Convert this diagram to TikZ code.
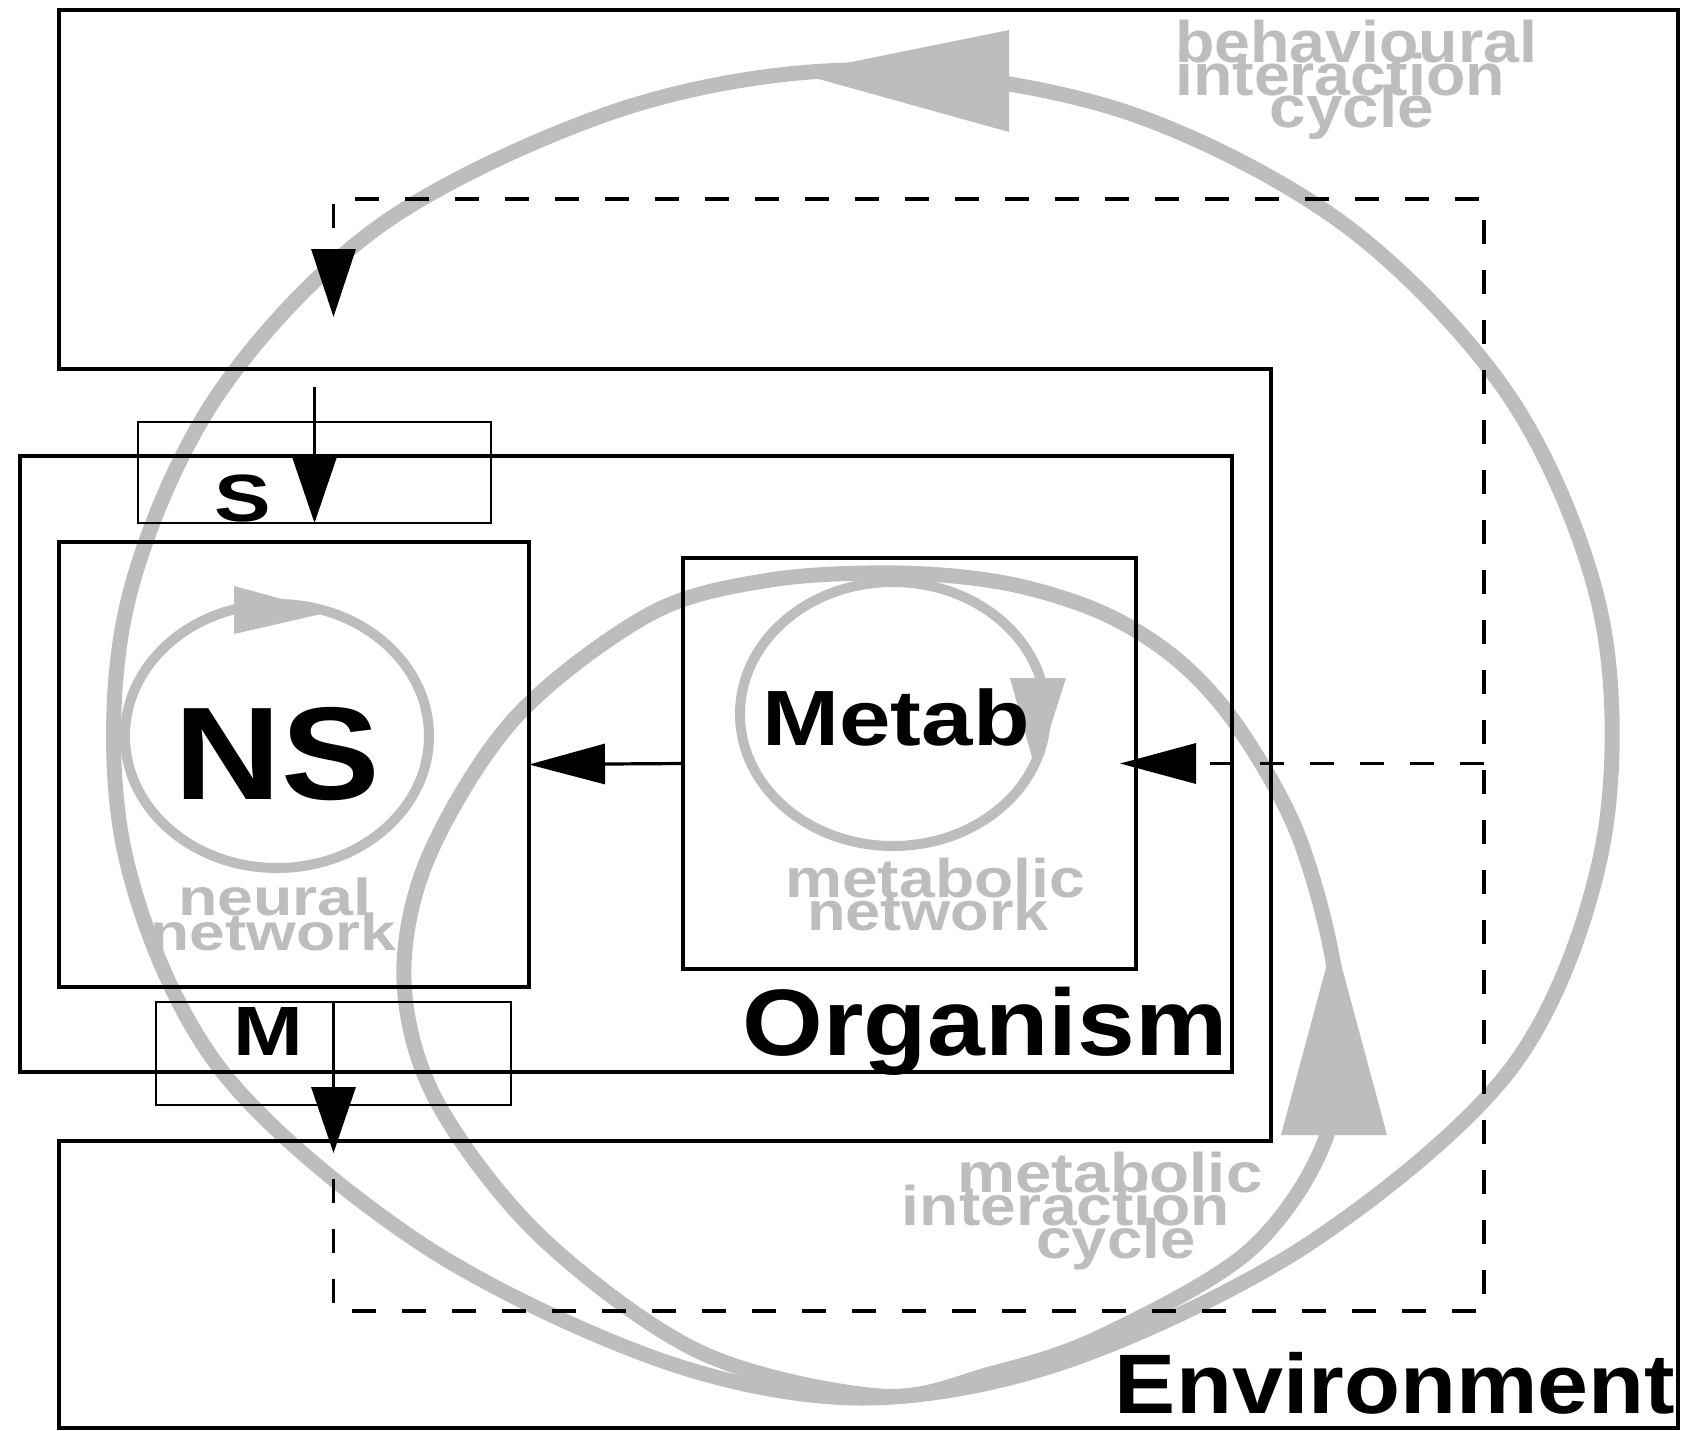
\documentclass[tikz,border=0pt]{standalone}
\usepackage{fontspec}
\setmainfont{Liberation Sans}
\usetikzlibrary{arrows.meta}
\definecolor{cyc}{gray}{0.74}
\newcommand\sxt[3]{\scalebox{#1}[1]{\fontsize{#2}{#2}\selectfont\bfseries #3}}
\begin{document}
\begin{tikzpicture}[x=0.5pt,y=-0.5pt,
  box/.style={draw, line width=1.75pt, inner sep=0pt, outer sep=0pt},
  thinbox/.style={draw, line width=1pt, inner sep=0pt, outer sep=0pt},
  bigcyc/.style={draw=cyc, line width=7.5pt},
  smallcyc/.style={draw=cyc, line width=5pt},
  varr/.style={line width=1.6pt, -{Triangle[length=33pt,width=22pt]}},
  harr/.style={line width=1.6pt, -{Triangle[length=38pt,width=20pt]}},
  dashline/.style={line width=1.7pt, dash pattern=on 12pt off 13pt, dash phase=12pt},
  lbl/.style={anchor=base, inner sep=0pt, outer sep=0pt},
  glbl/.style={anchor=base, inner sep=0pt, outer sep=0pt, text=cyc}]
\useasboundingbox (0,0) rectangle (1681,1430);
\fill[white] (0,0) rectangle (1681,1430);

% ---- grey cycles ----
% behavioural interaction cycle
\draw[bigcyc] plot[smooth cycle, tension=0.55] coordinates {
 (863,70) (1120,110) (1345,225) (1513,402) (1602,619) (1602,849) (1513,1066)
 (1310,1243) (1070,1360) (863,1398) (660,1360) (420,1243) (218,1066) (124,849)
 (124,619) (213,402) (381,225) (625,108)};
% metabolic interaction cycle
\draw[bigcyc] plot[smooth cycle, tension=0.55] coordinates {
 (900,573) (1010,584) (1105,614) (1180,662) (1240,730) (1300,840) (1337,990) (1328,1132)
 (1250,1250) (1100,1337) (990,1374) (880,1396) (700,1352) (540,1236) (436,1100)
 (404,980) (428,858) (515,718) (650,614) (770,580)};
% neural and metabolic networks
\draw[smallcyc] (277,736) ellipse [x radius=76pt, y radius=66pt];
\draw[smallcyc] (893,714) ellipse [x radius=76.5pt, y radius=66pt];
\fill[cyc] (1009,30) -- (1009,132) -- (797,73) -- cycle;
\fill[cyc] (1281,1135) -- (1387,1135) -- (1334,938) -- cycle;
\fill[cyc] (234,586) -- (234,634) -- (330,612) -- cycle;
\fill[cyc] (1010,678) -- (1066,678) -- (1036,772) -- cycle;

% ---- grey labels ----
\node[glbl] (b1) at (1356,62) {\sxt{1.10}{29.3pt}{behavioural}};
\node[glbl] (b2) at (1340,95) {\sxt{1.10}{29.3pt}{interaction}};
\node[glbl] (b3) at (1352,127) {\sxt{1.12}{29.3pt}{cycle}};
\node[glbl] (mn1) at (935,897) {\sxt{1.18}{27.2pt}{metabolic}};
\node[glbl] (mn2) at (928,930) {\sxt{1.16}{27.2pt}{network}};
\node[glbl] (nn1) at (275,915) {\sxt{1.24}{26pt}{neural}};
\node[glbl] (nn2) at (273,950) {\sxt{1.23}{26pt}{network}};
\node[glbl] (mc1) at (1110,1192) {\sxt{1.17}{27.9pt}{metabolic}};
\node[glbl] (mc2) at (1066,1225) {\sxt{1.15}{27.9pt}{interaction}};
\node[glbl] (mc3) at (1116,1258) {\sxt{1.14}{27.9pt}{cycle}};

% ---- environment ----
\draw[line width=1.75pt] (59,10) -- (1678,10) -- (1678,1428) -- (59,1428) -- (59,1141)
  -- (1271,1141) -- (1271,369) -- (59,369) -- cycle;

% ---- boxes ----
\node[box, minimum width=606pt, minimum height=308pt] (org) at (626,764) {};
\node[box, minimum width=235pt, minimum height=222.5pt] (ns) at (294,764.5) {};
\node[box, minimum width=226.5pt, minimum height=205.5pt] (metab) at (909.5,763.5) {};
\node[thinbox, minimum width=176.5pt, minimum height=50.5pt] (sbox) at (314.5,472.5) {};
\node[thinbox, minimum width=177.5pt, minimum height=51.5pt] (mbox) at (333.5,1053.5) {};

% ---- coordinates ----
\coordinate (stop) at (314.5,387);
\coordinate (mtip) at (333.5,1153);
\coordinate (dbl) at (333.5,1311);
\coordinate (dbr) at (1484,1311);
\coordinate (dtr) at (1484,199);
\coordinate (dtl) at (333.5,199);
\coordinate (dtip) at (333.5,317);
\coordinate (dmid) at (1484,763.5);
\coordinate (mtarget) at (1120,763.5);

% ---- black arrows ----
\draw[harr] (metab.west) -- (ns.east);
\draw[varr] (stop) -- (sbox.south);
\draw[varr] (mbox.north) -- (mtip);
\draw[dashline, -{Triangle[length=34pt,width=22pt]}] (mtip) -- (dbl) -- (dbr) -- (dtr) -- (dtl) -- (dtip);
\draw[line width=1.7pt, dash pattern=on 12pt off 13pt, -{Triangle[length=38pt,width=20pt]}] (dmid) -- (mtarget);

% ---- black labels ----
\node[lbl] (nsl) at (277,799) {\sxt{1.12}{66pt}{NS}};
\node[lbl] (metabl) at (896,745) {\sxt{1.18}{39.2pt}{Metab}};
\node[lbl] (orgl) at (985,1055) {\sxt{1.10}{47.2pt}{Organism}};
\node[lbl] (envl) at (1395,1413) {\sxt{1.086}{42.2pt}{Environment}};
\node[lbl] (sl) at (243,521) {\sxt{1.27}{33.4pt}{S}};
\node[lbl] (ml) at (268,1055) {\sxt{1.2}{34.9pt}{M}};
\end{tikzpicture}
\end{document}
